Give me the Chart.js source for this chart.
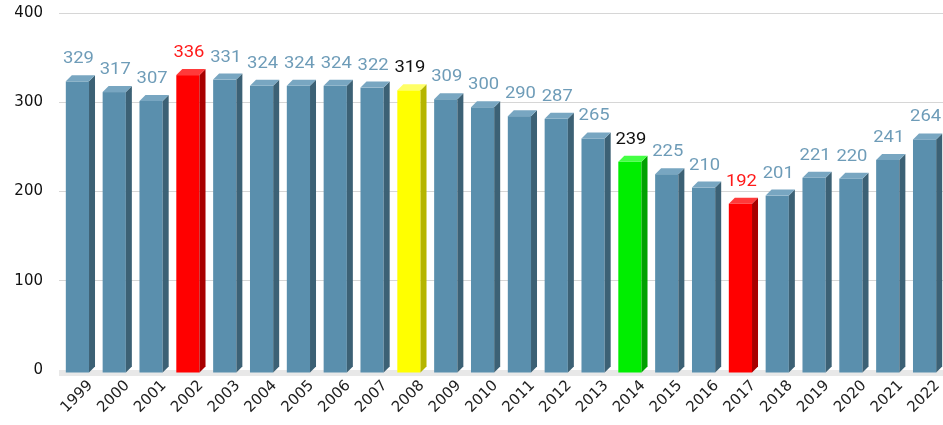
<!DOCTYPE html>
<html>
<head>
<meta charset="utf-8">
<script src="https://cdn.jsdelivr.net/npm/chart.js@4.4.1/dist/chart.umd.min.js"></script>
<style>
  html, body { margin: 0; padding: 0; background: #fff; }
  #wrap { width: 943px; height: 425px; }
</style>
</head>
<body>
<div id="wrap"><canvas id="chart" width="943" height="425"></canvas></div>
<script>
// values
var years = ['1999','2000','2001','2002','2003','2004','2005','2006','2007','2008','2009','2010',
             '2011','2012','2013','2014','2015','2016','2017','2018','2019','2020','2021','2022'];
var counts = [329,317,307,336,331,324,324,324,322,319,309,300,290,287,265,239,225,210,192,201,221,220,241,264];
var highlight = { '2002': 'red', '2008': 'yellow', '2014': 'green', '2017': 'red' };
var yTicks = [0, 100, 200, 300, 400];

var palette = {
  normal: { front: '#5a8fad', side: '#3c6175', top: '#78a6c1', label: '#6e9cb8' },
  red:    { front: '#ff0000', side: '#a80000', top: '#ff3a3a', label: '#ff1a1a' },
  yellow: { front: '#ffff00', side: '#b5b500', top: '#ffff66', label: '#111111' },
  green:  { front: '#00ee00', side: '#00a000', top: '#44ff44', label: '#111111' }
};

function styleOf(i){ return palette[highlight[years[i]] || 'normal']; }

var DEPTH = 6;

// 3d boxes: the back top edge sits on the value, front face is pushed down-left
var boxes = {
  id: 'boxes',
  beforeDatasetsDraw: function(chart){
    var ctx = chart.ctx, a = chart.chartArea;
    var base = chart.scales.y.getPixelForValue(0);
    ctx.save();
    ctx.fillStyle = '#e8e8e8';
    ctx.fillRect(a.left, base, a.right - a.left, 6);
    ctx.restore();
  },
  afterDatasetsDraw: function(chart){
    var ctx = chart.ctx;
    var meta = chart.getDatasetMeta(0);
    var d = DEPTH;
    ctx.save();
    meta.data.forEach(function(bar, i){
      var p = bar.getProps(['x','y','base','width'], true);
      var st = styleOf(i);
      var l = p.x - p.width/2, r = p.x + p.width/2;
      var ft = p.y + d - 1, fb = p.base + 3;
      // front face
      ctx.fillStyle = st.front;
      ctx.fillRect(l, ft, r - l, fb - ft);
      // side face
      ctx.fillStyle = st.side;
      ctx.beginPath();
      ctx.moveTo(r, ft); ctx.lineTo(r + d, ft - d);
      ctx.lineTo(r + d, fb - d); ctx.lineTo(r, fb);
      ctx.closePath(); ctx.fill();
      // top face
      ctx.fillStyle = st.top;
      ctx.beginPath();
      ctx.moveTo(l, ft); ctx.lineTo(l + d, ft - d);
      ctx.lineTo(r + d, ft - d); ctx.lineTo(r, ft);
      ctx.closePath(); ctx.fill();
      // value label
      ctx.fillStyle = st.label;
      ctx.font = '16px Roboto';
      ctx.textAlign = 'center';
      ctx.textBaseline = 'alphabetic';
      ctx.save();
      ctx.translate(p.x + 1, p.y - 13);
      ctx.scale(1.15, 1);
      ctx.fillText(String(counts[i]), 0, 0);
      ctx.restore();
    });
    ctx.restore();
  }
};

new Chart(document.getElementById('chart'), {
  type: 'bar',
  data: {
    labels: years,
    datasets: [{
      data: counts,
      // faces are painted by the plugin above
      backgroundColor: 'rgba(0,0,0,0)',
      barPercentage: 0.63,
      categoryPercentage: 1
    }]
  },
  options: {
    responsive: false,
    animation: false,
    devicePixelRatio: 1,
    layout: { padding: { top: 13, right: 0, left: 0, bottom: 0 } },
    plugins: { legend: { display: false }, tooltip: { enabled: false } },
    scales: {
      x: {
        grid: { display: false, drawTicks: false },
        border: { display: false },
        ticks: { color: '#222', font: { family: 'DejaVu Sans', size: 15 },
                 minRotation: 45, maxRotation: 45, labelOffset: 13, padding: 7 },
        afterFit: function(s){ s.height = 55; s.paddingLeft = 0; s.paddingRight = 0; }
      },
      y: {
        min: 0, max: 400,
        afterBuildTicks: function(s){ s.ticks = yTicks.map(function(v){ return { value: v }; }); },
        grid: { color: '#d6d6d6', drawTicks: false, lineWidth: 1 },
        border: { display: false },
        ticks: { color: '#111', font: { family: 'DejaVu Sans', size: 15 }, padding: 16 },
        afterFit: function(s){ s.width = 59; s.paddingTop = 0; s.paddingBottom = 0; }
      }
    }
  },
  plugins: [boxes]
});
</script>
</body>
</html>
